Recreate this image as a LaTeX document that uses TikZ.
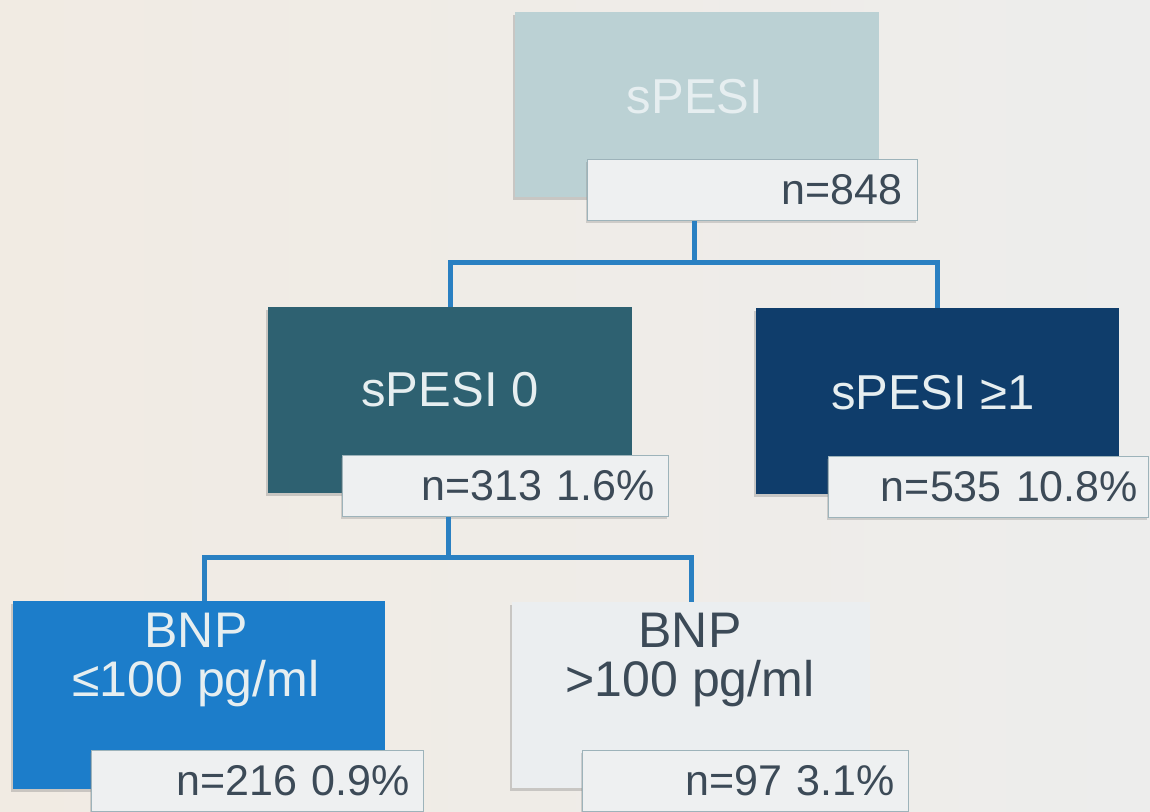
\documentclass[tikz,border=0pt]{standalone}
\usepackage{fontspec}
\setmainfont{Liberation Sans}
\usetikzlibrary{shadows}
\definecolor{bgwarm}{HTML}{F1EBE3}
\definecolor{bgcool}{HTML}{EDEDEC}
\definecolor{conncol}{HTML}{2A80C2}
\definecolor{topfill}{HTML}{BBD1D4}
\definecolor{zerofill}{HTML}{2E6171}
\definecolor{onefill}{HTML}{0F3D6B}
\definecolor{lowfill}{HTML}{1C7DCA}
\definecolor{highfill}{HTML}{EBEEF0}
\definecolor{tagfill}{HTML}{EEF0F1}
\definecolor{tagedge}{HTML}{9DB3BA}
\definecolor{darktext}{HTML}{3C4A57}
\definecolor{lighttext}{HTML}{E6EEF0}
\tikzset{
  groupbox/.style={rectangle, inner sep=0pt, draw=none,
    drop shadow={shadow xshift=-2pt, shadow yshift=-3pt, opacity=0.35}},
  tagbox/.style={rectangle, inner sep=0pt, inner xsep=13pt, fill=tagfill,
    draw=tagedge, line width=1pt, minimum height=61pt, text width=300pt,
    align=right, font=\fontsize{43}{46}\selectfont, text=darktext,
    drop shadow={shadow xshift=-1.5pt, shadow yshift=-2pt, opacity=0.3}},
  headtext/.style={font=\fontsize{49}{48}\selectfont, align=center},
  conn/.style={draw=conncol, line width=5pt}
}
\begin{document}
\begin{tikzpicture}[x=1pt,y=-1pt]
  % page and background
  \useasboundingbox (0,0) rectangle (1150,811);
  \shade[left color=bgwarm, right color=bgcool] (0,0) rectangle (1150,811);

  % top level
  \node[groupbox, fill=topfill, minimum width=364pt, minimum height=185pt] (top) at (697,104) {};
  \node[headtext, text=lighttext] (ttop) at (695,97) {sPESI};
  \node[tagbox, minimum width=330pt] (l0) at (752,190) {n=848};

  % second level
  \node[groupbox, fill=zerofill, minimum width=364pt, minimum height=186pt] (s0) at (450,400) {};
  \node[headtext, text=lighttext] (ts0) at (450,390) {sPESI 0};
  \node[tagbox, minimum width=326pt] (l1) at (505,486) {n=313 1.6\%};

  \node[groupbox, fill=onefill, minimum width=363pt, minimum height=186pt] (s1) at (937,401) {};
  \node[headtext, text=lighttext] (ts1) at (933,393) {sPESI ≥1};
  \node[tagbox, minimum width=320pt, inner xsep=8pt] (l2) at (988,487) {n=535 10.8\%};

  % third level
  \node[groupbox, fill=lowfill, minimum width=372pt, minimum height=188pt] (b0) at (199,695) {};
  \node[headtext, text=lighttext, font=\fontsize{50}{49}\selectfont] (tb0) at (196,660) {BNP\\≤100 pg/ml};
  \node[tagbox, minimum width=330pt, text width=306pt] (l3) at (257,781) {n=216 0.9\%};

  \node[groupbox, fill=highfill, minimum width=358pt, minimum height=186pt] (b1) at (691,695) {};
  \node[headtext, text=darktext, font=\fontsize{50}{49}\selectfont] (tb1) at (690,660) {BNP\\>100 pg/ml};
  \node[tagbox, minimum width=326pt] (l4) at (745,781) {n=97 3.1\%};

  % connectors
  \coordinate (j1) at (694,262);
  \coordinate (j2) at (448,557);
  \draw[conn] (j1 |- l0.south) -- (j1) -| (s0.north);
  \draw[conn] (j1) -| (s1.north);
  \draw[conn] (j2 |- l1.south) -- (j2) -| ([xshift=5pt]b0.north);
  \draw[conn] (j2) -| (b1.north);
\end{tikzpicture}
\end{document}
